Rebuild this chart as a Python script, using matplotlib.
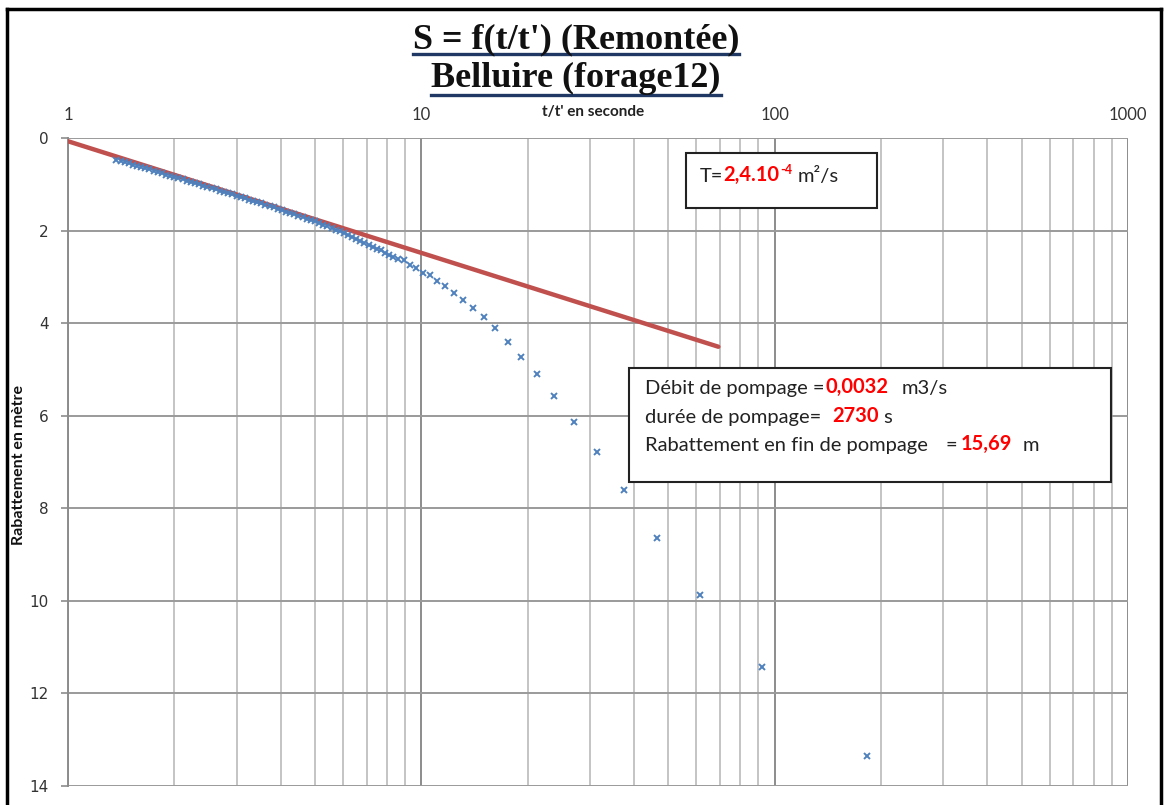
import numpy as np
import matplotlib
matplotlib.use("Agg")
import matplotlib.pyplot as plt
from matplotlib.ticker import LogLocator, NullFormatter
from matplotlib.patches import Rectangle
from matplotlib.lines import Line2D

# t/t' (recovery) and drawdown
ratio = [1.37, 1.41, 1.45, 1.49, 1.53, 1.57, 1.61, 1.65,
         1.70, 1.75, 1.80, 1.85, 1.90, 1.95, 2.00, 2.05,
         2.11, 2.17, 2.23, 2.29, 2.35, 2.41, 2.48, 2.55,
         2.62, 2.69, 2.76, 2.84, 2.92, 3.00, 3.08, 3.16,
         3.25, 3.34, 3.43, 3.52, 3.62, 3.72, 3.82, 3.92,
         4.03, 4.14, 4.25, 4.37, 4.49, 4.61, 4.74, 4.87,
         5.00, 5.14, 5.28, 5.42, 5.57, 5.72, 5.88, 6.04,
         6.20, 6.37, 6.54, 6.72, 6.90, 7.09, 7.28, 7.48,
         7.68, 7.89, 8.10, 8.30,
         8.58, 8.91, 9.27, 9.67, 10.1, 10.58, 11.1, 11.7,
         12.375, 13.13, 14.0, 15.0, 16.17, 17.55, 19.2, 21.2,
         23.75, 27.0, 31.33, 37.4, 46.5, 61.67, 92.0, 183.0]
drawdown = [0.47, 0.49, 0.52, 0.55, 0.575, 0.60, 0.625, 0.65,
            0.68, 0.71, 0.74, 0.765, 0.79, 0.82, 0.84, 0.865,
            0.895, 0.92, 0.95, 0.975, 1.00, 1.03, 1.06, 1.085,
            1.11, 1.14, 1.165, 1.19, 1.22, 1.25, 1.275, 1.30,
            1.33, 1.36, 1.39, 1.415, 1.445, 1.475, 1.50, 1.53,
            1.56, 1.59, 1.62, 1.65, 1.68, 1.71, 1.74, 1.77,
            1.80, 1.84, 1.87, 1.90, 1.94, 1.98, 2.02, 2.06,
            2.10, 2.14, 2.18, 2.22, 2.27, 2.31, 2.35, 2.39,
            2.43, 2.48, 2.53, 2.57,
            2.62, 2.64, 2.74, 2.81, 2.92, 2.97, 3.08, 3.20,
            3.35, 3.51, 3.68, 3.87, 4.10, 4.41, 4.74, 5.10,
            5.57, 6.13, 6.79, 7.61, 8.64, 9.87, 11.43, 13.35]

# fitted straight line (Jacob)
fit_ratio = [1.0, 69.3]
fit_drawdown = [0.07, 4.51]

x_ticks = [1, 10, 100, 1000]
y_ticks = [0, 2, 4, 6, 8, 10, 12, 14]

W, H = 1168, 805
def fx(px):
    return px / W
def fy(py):
    return 1 - py / H

fig = plt.figure(figsize=(W / 100, H / 100), dpi=100)
fig.patch.set_facecolor('white')
ax = fig.add_axes([fx(68), fy(786), fx(1128) - fx(68), fy(138) - fy(786)])

ax.set_xscale('log')
ax.set_xlim(1, 1000)
ax.set_ylim(14, 0)
ax.set_axisbelow(True)

ax.xaxis.tick_top()
ax.set_xticks(x_ticks)
ax.set_xticklabels([str(v) for v in x_ticks], fontfamily='Lato', fontsize=12, color='#333333')
ax.xaxis.set_minor_locator(LogLocator(base=10, subs=np.arange(2, 10)))
ax.xaxis.set_minor_formatter(NullFormatter())
ax.tick_params(axis='x', which='both', length=0, pad=11)

ax.set_yticks(y_ticks)
ax.set_yticklabels([str(v) for v in y_ticks], fontfamily='DejaVu Sans', fontsize=11, color='#333333')
ax.tick_params(axis='y', which='major', direction='out', length=5, width=1.2, color='#8c8c8c', pad=9)

ax.grid(which='major', axis='x', color='#8c8c8c', linewidth=1.4)
ax.grid(which='minor', axis='x', color='#c4c4c4', linewidth=1.4)
ax.grid(which='major', axis='y', color='#9a9a9a', linewidth=1.4)
for s in ['top', 'right', 'bottom']:
    ax.spines[s].set_visible(False)
ax.spines['left'].set_color('#8c8c8c')
ax.spines['left'].set_linewidth(1.4)

ax.plot(fit_ratio, fit_drawdown, color='#c0504d', linewidth=3.2, solid_capstyle='round', zorder=3)
ax.plot(ratio, drawdown, linestyle='none', marker='x', markersize=5, markeredgewidth=1.4,
        color='#4f81bd', zorder=4)

# titles
t1 = fig.text(fx(576), fy(48), "S = f(t/t') (Remontée)", ha='center', va='baseline',
              fontfamily='Liberation Serif', fontweight='bold', fontsize=26, color='#111111')
t2 = fig.text(fx(576), fy(87), "Belluire (forage12)", ha='center', va='baseline',
              fontfamily='Liberation Serif', fontweight='bold', fontsize=26, color='#111111')
fig.canvas.draw()
r = fig.canvas.get_renderer()
for t, uy in [(t1, 54), (t2, 95)]:
    bb = t.get_window_extent(renderer=r)
    fig.add_artist(Line2D([bb.x0 / W, bb.x1 / W], [fy(uy), fy(uy)], color='#1f3864', linewidth=2.4))

fig.text(fx(593), fy(112), "t/t' en seconde", ha='center', va='center',
         fontfamily='Lato', fontweight='bold', fontsize=11, color='#222222')
fig.text(fx(19), fy(465), "Rabattement en mètre", rotation=90, ha='center', va='center',
         fontfamily='Lato', fontweight='bold', fontsize=11.5, color='#111111')

# text boxes
fig.add_artist(Rectangle((fx(686), fy(208)), fx(877) - fx(686), fy(153) - fy(208),
                         facecolor='white', edgecolor='#222222', linewidth=1.5, zorder=5))
fig.add_artist(Rectangle((fx(629), fy(482)), fx(1111) - fx(629), fy(368) - fy(482),
                         facecolor='white', edgecolor='#222222', linewidth=1.5, zorder=5))

FS = 14.5

def chain(prev, s, color='#222222', weight='normal', dx=0, dy=0, size=FS, xy=(1, 0)):
    return fig.add_artist(matplotlib.text.Annotation(
        s, xy=xy, xycoords=prev, xytext=(dx, dy), textcoords='offset points',
        ha='left', va='bottom', fontfamily='Lato', fontsize=size, fontweight=weight,
        color=color, zorder=6))

def start(px, py, s):
    return fig.text(fx(px), fy(py), s, ha='left', va='baseline', fontfamily='Lato',
                    fontsize=FS, color='#222222', zorder=6)

a = start(700, 182, "T=")
b = chain(a, "2,4.10", color='#ff0000', weight='bold', dx=0)
c = chain(b, "-4", color='#ff0000', weight='bold', size=9, dx=0.5, xy=(1, 0.45))
chain((c, b), "m\u00b2/s", xy=(1, 0), dx=4)

a = start(645, 394, "Débit de pompage =")
b = chain(a, "0,0032", color='#ff0000', weight='bold', dx=1)
chain(b, "m3/s", dx=9)

a = start(645, 423, "durée de pompage=")
b = chain(a, "2730", color='#ff0000', weight='bold', dx=8)
chain(b, "s", dx=3)

a = start(645, 451, "Rabattement en fin de pompage")
b = chain(a, "=", dx=13)
b = chain(b, "15,69", color='#ff0000', weight='bold', dx=2)
chain(b, "m", dx=8)

# outer frame
fig.add_artist(Line2D([fx(7), fx(7)], [fy(9), 0], color='black', linewidth=2.5))
fig.add_artist(Line2D([fx(7), fx(1161)], [fy(9), fy(9)], color='black', linewidth=2.5))
fig.add_artist(Line2D([fx(1161), fx(1161)], [fy(9), 0], color='black', linewidth=2.5))

fig.savefig('out.png', dpi=100)
